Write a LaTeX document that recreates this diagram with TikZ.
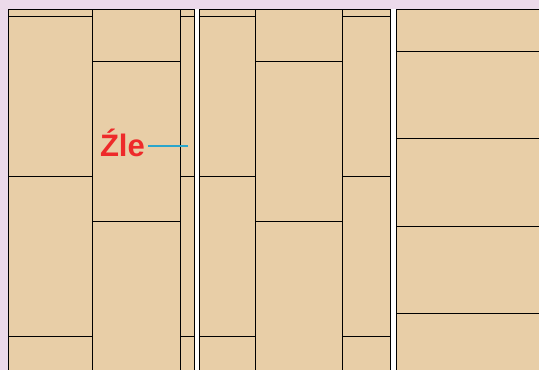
\documentclass[tikz,border=0pt]{standalone}
\usepackage{fontspec}
\setmainfont{Liberation Sans}
\usetikzlibrary{positioning}
\definecolor{wallPink}{HTML}{ECDAEA}
\definecolor{boardTan}{HTML}{E8CEA7}
\definecolor{markRed}{HTML}{EE2A2A}
\definecolor{markBlue}{HTML}{2AA6CC}

\begin{document}
\begin{tikzpicture}[x=1pt,y=-1pt,every node/.style={font=\bfseries\fontsize{31}{36}\selectfont}]
      \useasboundingbox (0,0) rectangle (539,370);
      \clip (0,0) rectangle (539,370);
      \fill[wallPink] (0,0) rectangle (539,370);
      \fill[white] (8,9) rectangle (539,370);
      % panels
      \foreach \xa/\xb in {8/194,199/390,396/550}{%
        \filldraw[fill=boardTan,draw=black,line width=1pt] (\xa,9) rectangle (\xb,380);
      }
      % board joints
      \foreach \xa/\xb/\ys in {%
        8/92/{16,176,336},
        92/180/{61,221},
        180/194/{16,176,336},
        199/255/{16,176,336},
        255/342/{61,221},
        342/390/{16,176,336},
        396/550/{51,138,226,313}}{%
        \draw[line width=1pt] (\xa,9) -- (\xa,380);
        \foreach \y in \ys
          \draw[line width=1pt] (\xa,\y) -- (\xb,\y);
      }
      \node[text=markRed,anchor=base east,inner sep=0pt] (zle) at (145,156) {Źle};
      \coordinate (zletip) at (188,146);
      \draw[markBlue,line width=1.2pt] (zle.east |- zletip) ++(3,0) -- (zletip);
    \end{tikzpicture}
\end{document}
